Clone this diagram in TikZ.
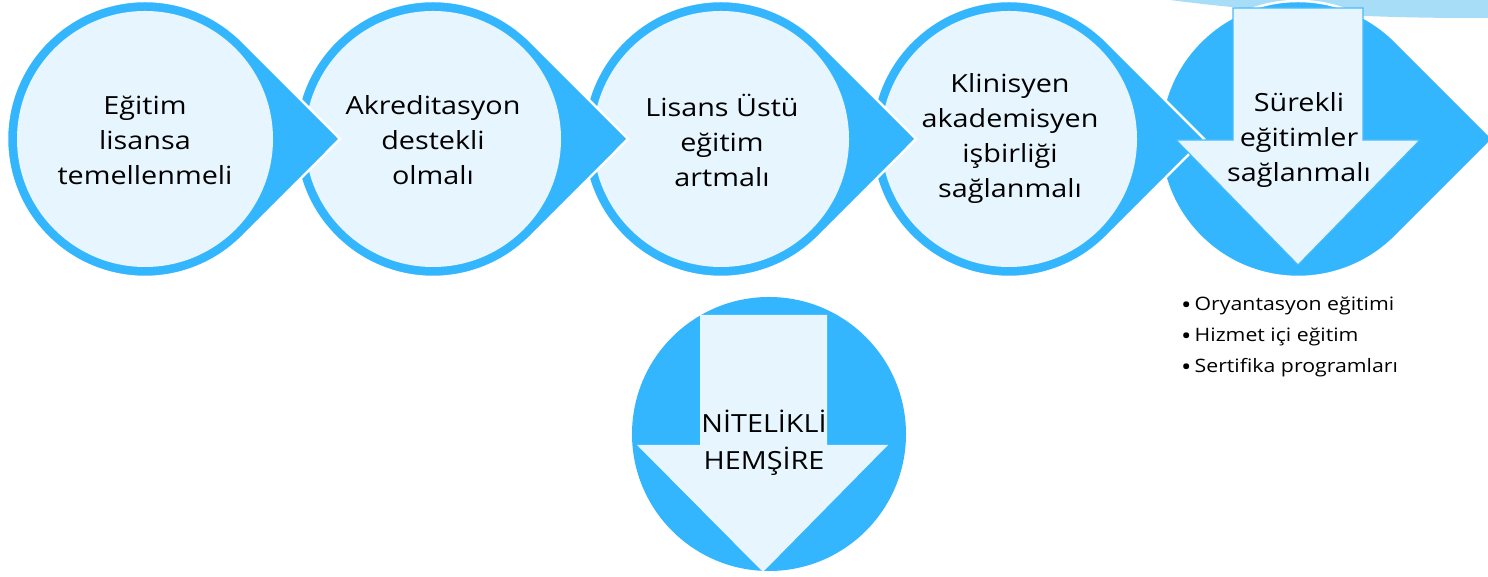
\documentclass[tikz,border=0pt]{standalone}
\usepackage{fontspec}
\setmainfont[FakeStretch=1.15]{Open Sans}
\usetikzlibrary{calc}
\definecolor{ringblue}{HTML}{33B6FE}
\definecolor{palefill}{HTML}{E7F6FE}
\definecolor{skyband}{HTML}{A8DDF8}
\definecolor{arrowline}{HTML}{45BAF8}
\newcommand\bigdot{\raisebox{-2.5pt}{\fontsize{24}{31}\selectfont•}\,}
\tikzset{
  petal/.style={fill=ringblue, draw=white, line width=2.5pt, line join=miter},
  core/.style={fill=palefill},
  steptext/.style={align=center, font=\fontsize{25}{35}\selectfont, text=black, inner sep=0pt},
  downarrow/.style={fill=palefill, draw=arrowline, line width=1.2pt},
  bulletlist/.style={align=left, font=\fontsize{18.5}{31}\selectfont, text=black, inner sep=0pt, anchor=west},
}
\begin{document}
\begin{tikzpicture}[x=1pt,y=1pt]
\useasboundingbox (0,0) rectangle (1488,577);
% top-right band
\fill[skyband] (1470,677) ellipse[x radius=565, y radius=118];
% step shapes, right to left so each tip lies on the next circle
\foreach \cx/\withcore in {1298/0,1009/1,721/1,433/1,145/1} {
  \path[petal] (\cx+195,438) -- ($(\cx,438)+(45:138)$) arc[start angle=45,end angle=315,radius=138] -- cycle;
  \ifnum\withcore=1 \fill[core] (\cx,438) circle[radius=128]; \fi
}
% down arrow in fifth step
\path[downarrow] (1233,569) -- (1363,569) -- (1363,437) -- (1420,437) -- (1298,312) -- (1176,437) -- (1233,437) -- cycle;
% bottom circle with arrow
\fill[ringblue] (769,143) circle[radius=137];
\path[fill=palefill] (700,262) -- (827,262) -- (827,132) -- (888,132) -- (763,5) -- (637,132) -- (700,132) -- cycle;
% texts
\node[steptext] (s1) at (145,437) {Eğitim\\lisansa\\temellenmeli};
\node[steptext] (s2) at (433,437) {Akreditasyon\\destekli\\olmalı};
\node[steptext] (s3) at (722,437) {Lisans Üstü\\eğitim\\artmalı};
\node[steptext] (s4) at (1010,438) {Klinisyen\\akademisyen\\işbirliği\\sağlanmalı};
\node[steptext] (s5) at (1299,437) {Sürekli\\eğitimler\\sağlanmalı};
\node[steptext, font=\fontsize{25}{37}\selectfont] (goal) at (764,134) {NİTELİKLİ\\HEMŞİRE};
\node[bulletlist] (list) at (1181,240) {\bigdot Oryantasyon eğitimi\\\bigdot Hizmet içi eğitim\\\bigdot Sertifika programları};
\end{tikzpicture}
\end{document}
